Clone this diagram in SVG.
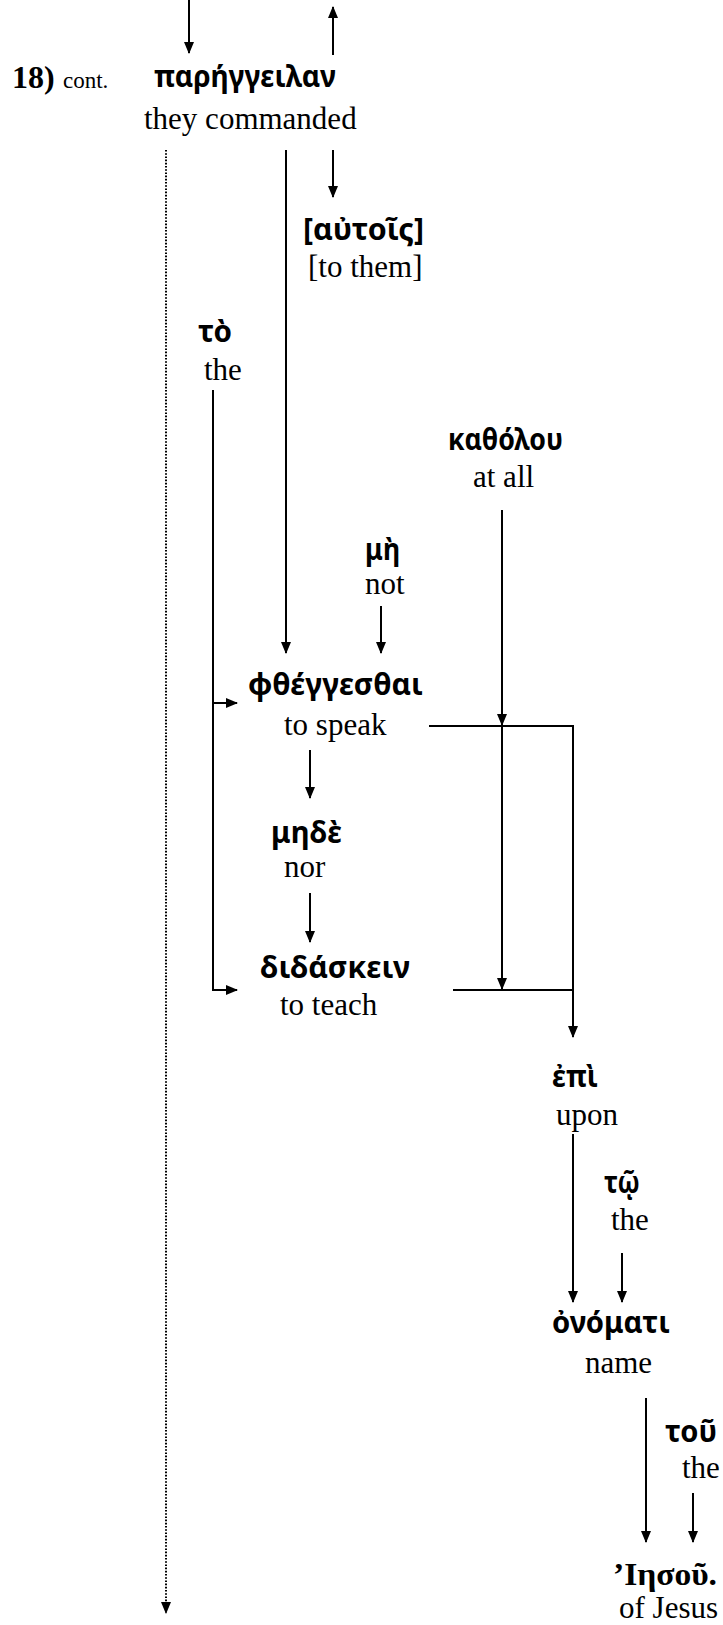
<svg xmlns="http://www.w3.org/2000/svg" width="723" height="1625" viewBox="0 0 723 1625">
<defs>
<marker id="ah" markerUnits="userSpaceOnUse" markerWidth="12" markerHeight="10" refX="11" refY="5" orient="auto">
<path d="M0,0 L12,5 L0,10 z" fill="#000"/>
</marker>
<style>
.gk{font-family:"Noto Sans","DejaVu Sans",sans-serif;font-weight:bold;font-size:31px;fill:#000}
.en{font-family:"Liberation Serif","Times New Roman",serif;font-size:31px;fill:#000}
.bd{font-family:"Liberation Serif","Times New Roman",serif;font-weight:bold;font-size:32px;fill:#000}
.sm{font-family:"Liberation Serif","Times New Roman",serif;font-size:23px;fill:#000}
.ln{stroke:#000;stroke-width:2;fill:none}
.ar{stroke:#000;stroke-width:2;fill:none;marker-end:url(#ah)}
.dt{stroke:#000;stroke-width:2;fill:none;stroke-dasharray:1.6 1.6;marker-end:url(#ah)}
</style>
</defs>
<g id="label">
<text class="bd" x="12" y="88">18)</text>
<text class="sm" x="63" y="88">cont.</text>
</g>
<g id="n-parengeilan">
<text class="gk" x="154" y="87" textLength="182" lengthAdjust="spacingAndGlyphs">παρήγγειλαν</text>
<text class="en" x="144" y="129">they commanded</text>
</g>
<g id="n-autois">
<text class="gk" x="303" y="240" textLength="121" lengthAdjust="spacingAndGlyphs">[αὐτοῖς]</text>
<text class="en" x="308" y="277">[to them]</text>
</g>
<g id="n-to">
<text class="gk" x="198" y="342" textLength="34" lengthAdjust="spacingAndGlyphs">τὸ</text>
<text class="en" x="204" y="380">the</text>
</g>
<g id="n-katholou">
<text class="gk" x="448" y="450" textLength="115" lengthAdjust="spacingAndGlyphs">καθόλου</text>
<text class="en" x="473" y="487">at all</text>
</g>
<g id="n-me">
<text class="gk" x="365" y="560" textLength="35" lengthAdjust="spacingAndGlyphs">μὴ</text>
<text class="en" x="365" y="594">not</text>
</g>
<g id="n-phthengesthai">
<text class="gk" x="248" y="695" textLength="175" lengthAdjust="spacingAndGlyphs">φθέγγεσθαι</text>
<text class="en" x="284" y="735">to speak</text>
</g>
<g id="n-mede">
<text class="gk" x="271" y="843" textLength="71" lengthAdjust="spacingAndGlyphs">μηδὲ</text>
<text class="en" x="284" y="877">nor</text>
</g>
<g id="n-didaskein">
<text class="gk" x="260" y="978" textLength="150" lengthAdjust="spacingAndGlyphs">διδάσκειν</text>
<text class="en" x="280" y="1015">to teach</text>
</g>
<g id="n-epi">
<text class="gk" x="552" y="1087" textLength="46" lengthAdjust="spacingAndGlyphs">ἐπὶ</text>
<text class="en" x="556" y="1125">upon</text>
</g>
<g id="n-to2">
<text class="gk" x="604" y="1193" textLength="36" lengthAdjust="spacingAndGlyphs">τῷ</text>
<text class="en" x="611" y="1230">the</text>
</g>
<g id="n-onomati">
<text class="gk" x="552" y="1333" textLength="118" lengthAdjust="spacingAndGlyphs">ὀνόματι</text>
<text class="en" x="585" y="1373">name</text>
</g>
<g id="n-tou">
<text class="gk" x="665" y="1442" textLength="52" lengthAdjust="spacingAndGlyphs">τοῦ</text>
<text class="en" x="682" y="1478">the</text>
</g>
<g id="n-iesou">
<text class="bd" x="613" y="1585" textLength="104" lengthAdjust="spacingAndGlyphs">’Ιησοῦ.</text>
<text class="en" x="619" y="1618">of Jesus</text>
</g>
<g id="connectors">
<path class="ar" d="M189,0 V53"/>
<path class="ar" d="M333,55 V7"/>
<path class="dt" d="M166,150 V1613"/>
<path class="ar" d="M286,150 V653"/>
<path class="ar" d="M333,150 V197"/>
<path class="ar" d="M213,390 V990 H237"/>
<path class="ar" d="M213,703 H237"/>
<path class="ar" d="M381,606 V653"/>
<path class="ar" d="M502,510 V725"/>
<path class="ar" d="M502,726 V989"/>
<path class="ar" d="M429,726 H573 V1037"/>
<path class="ln" d="M453,990 H573"/>
<path class="ar" d="M310,750 V798"/>
<path class="ar" d="M310,893 V942"/>
<path class="ar" d="M573,1134 V1302"/>
<path class="ar" d="M622,1253 V1302"/>
<path class="ar" d="M646,1398 V1542"/>
<path class="ar" d="M693,1493 V1542"/>
</g>
</svg>
